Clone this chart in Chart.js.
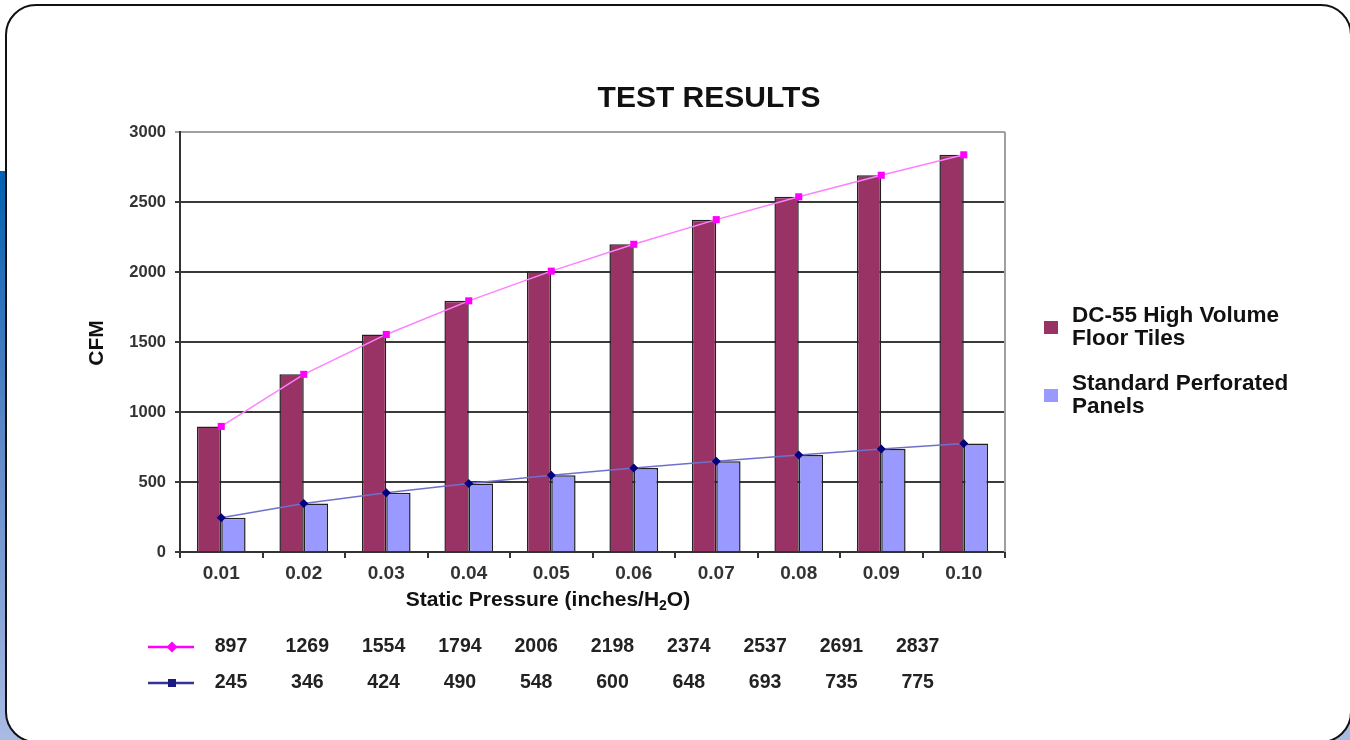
<!DOCTYPE html>
<html>
<head>
<meta charset="utf-8">
<script src="https://cdn.jsdelivr.net/npm/chart.js@4/dist/chart.umd.min.js"></script>
<style>
  html, body { margin: 0; padding: 0; background: #fff; }
  #chart { display: block; }
</style>
</head>
<body>
<canvas id="chart" width="1350" height="740"></canvas>
<script>
// Chart data
const pressures = ['0.01', '0.02', '0.03', '0.04', '0.05', '0.06', '0.07', '0.08', '0.09', '0.10']
const dc55Cfm = [897, 1269, 1554, 1794, 2006, 2198, 2374, 2537, 2691, 2837]
const perforatedCfm = [245, 346, 424, 490, 548, 600, 648, 693, 735, 775]
const seriesNames = [['DC-55 High Volume', 'Floor Tiles'], ['Standard Perforated', 'Panels']]
const yMin = 0
const yMax = 3000
const yStep = 500

const FONT = '"Liberation Sans", Arial, sans-serif'
const MAROON = '#993366'
const LAVENDER = '#9999ff'

// Page background and rounded card
const backdrop = {
  id: 'backdrop',
  beforeDraw(chart) {
    const ctx = chart.ctx
    ctx.save()
    ctx.fillStyle = '#fff'
    ctx.fillRect(0, 0, chart.width, chart.height)

    const grad = ctx.createLinearGradient(0, 171, 0, 740)
    grad.addColorStop(0, '#0060b0')
    grad.addColorStop(0.45, '#5a86c6')
    grad.addColorStop(1, '#a9bbe3')
    ctx.fillStyle = grad
    ctx.fillRect(0, 171, 10, 569)
    ctx.fillRect(0, 700, 40, 40)

    ctx.fillStyle = '#a9bbe3'
    ctx.fillRect(1310, 700, 40, 40)

    const x = 6, y = 5, w = 1345, h = 737, r = 30
    ctx.beginPath()
    ctx.moveTo(x + r, y)
    ctx.lineTo(x + w - r, y)
    ctx.arcTo(x + w, y, x + w, y + r, r)
    ctx.lineTo(x + w, y + h - r)
    ctx.arcTo(x + w, y + h, x + w - r, y + h, r)
    ctx.lineTo(x + r, y + h)
    ctx.arcTo(x, y + h, x, y + h - r, r)
    ctx.lineTo(x, y + r)
    ctx.arcTo(x, y, x + r, y, r)
    ctx.closePath()
    ctx.fillStyle = '#fff'
    ctx.fill()
    ctx.lineWidth = 2
    ctx.strokeStyle = '#111'
    ctx.stroke()
    ctx.restore()
  },
  beforeDatasetsDraw(chart) {
    const { ctx, chartArea } = chart
    ctx.save()
    ctx.strokeStyle = '#a0a0a0'
    ctx.lineWidth = 2
    ctx.beginPath()
    ctx.moveTo(chartArea.right, chartArea.top)
    ctx.lineTo(chartArea.right, chartArea.bottom)
    ctx.stroke()
    ctx.restore()
  }
}

// Title, axis titles, legend and data table
const annotations = {
  id: 'annotations',
  afterDraw(chart) {
    const ctx = chart.ctx
    ctx.save()
    ctx.fillStyle = '#111'
    ctx.textBaseline = 'middle'

    // title
    ctx.textAlign = 'center'
    ctx.font = `bold 30px ${FONT}`
    ctx.fillText('TEST RESULTS', 709, 99)

    // y axis title
    ctx.save()
    ctx.translate(97, 343)
    ctx.rotate(-Math.PI / 2)
    ctx.font = `bold 21px ${FONT}`
    ctx.fillText('CFM', 0, 0)
    ctx.restore()

    // x axis title with subscript
    const big = `bold 21px ${FONT}`
    const small = `bold 14px ${FONT}`
    const partA = 'Static Pressure (inches/H'
    const partB = '2'
    const partC = 'O)'
    ctx.font = big
    const wA = ctx.measureText(partA).width
    const wC = ctx.measureText(partC).width
    ctx.font = small
    const wB = ctx.measureText(partB).width
    let tx = 548 - (wA + wB + wC) / 2
    ctx.textAlign = 'left'
    ctx.font = big
    ctx.fillText(partA, tx, 600)
    tx += wA
    ctx.font = small
    ctx.fillText(partB, tx, 606)
    tx += wB
    ctx.font = big
    ctx.fillText(partC, tx, 600)

    // legend
    const colors = [MAROON, LAVENDER]
    const legendY = [327, 395]
    ctx.font = `bold 22.5px ${FONT}`
    seriesNames.forEach((lines, i) => {
      ctx.fillStyle = colors[i]
      ctx.fillRect(1044, legendY[i] - 6, 14, 13)
      ctx.fillStyle = '#111'
      lines.forEach((t, j) => {
        ctx.fillText(t, 1072, legendY[i] - 11 + j * 23)
      })
    })

    // data table
    const rows = [
      { values: dc55Cfm, y: 647, line: '#ff00ff', marker: '#ff00ff', diamond: true },
      { values: perforatedCfm, y: 683, line: '#333399', marker: '#1a1a80', diamond: false }
    ]
    rows.forEach(row => {
      ctx.strokeStyle = row.line
      ctx.lineWidth = 2.5
      ctx.beginPath()
      ctx.moveTo(148, row.y)
      ctx.lineTo(194, row.y)
      ctx.stroke()
      ctx.fillStyle = row.marker
      if (row.diamond) {
        ctx.beginPath()
        ctx.moveTo(172, row.y - 5.5)
        ctx.lineTo(177.5, row.y)
        ctx.lineTo(172, row.y + 5.5)
        ctx.lineTo(166.5, row.y)
        ctx.closePath()
        ctx.fill()
      } else {
        ctx.fillRect(168, row.y - 4, 8, 8)
      }
      ctx.fillStyle = '#222'
      ctx.textAlign = 'center'
      ctx.font = `bold 19.5px ${FONT}`
      row.values.forEach((v, i) => {
        ctx.fillText(String(v), 231 + i * 76.3, row.y)
      })
      ctx.textAlign = 'left'
    })
    ctx.restore()
  }
}

new Chart(document.getElementById('chart'), {
  data: {
    labels: pressures,
    datasets: [
      {
        type: 'line',
        data: dc55Cfm,
        borderColor: '#ff80ff',
        borderWidth: 1.5,
        pointStyle: 'rect',
        pointRadius: 5,
        pointBackgroundColor: '#ff00ff',
        pointBorderColor: '#ff00ff',
        pointBorderWidth: 0,
        order: 0
      },
      {
        type: 'line',
        data: perforatedCfm,
        borderColor: '#7070cc',
        borderWidth: 1.5,
        pointStyle: 'rectRot',
        pointRadius: 4.5,
        pointBackgroundColor: '#000080',
        pointBorderColor: '#000080',
        pointBorderWidth: 0,
        order: 0
      },
      {
        type: 'bar',
        data: dc55Cfm,
        backgroundColor: MAROON,
        borderColor: '#222',
        borderWidth: 1.5,
        categoryPercentage: 0.59,
        barPercentage: 1,
        order: 1
      },
      {
        type: 'bar',
        data: perforatedCfm,
        backgroundColor: LAVENDER,
        borderColor: '#222',
        borderWidth: 1.5,
        categoryPercentage: 0.59,
        barPercentage: 1,
        order: 1
      }
    ]
  },
  options: {
    responsive: false,
    animation: false,
    devicePixelRatio: 1,
    layout: {
      padding: { left: 0, right: 345, top: 132, bottom: 148 }
    },
    plugins: {
      legend: { display: false },
      title: { display: false },
      tooltip: { enabled: false }
    },
    scales: {
      x: {
        offset: true,
        afterFit(scale) { scale.height = 40 },
        grid: {
          offset: true,
          drawOnChartArea: false,
          tickLength: 6,
          color: '#333',
          lineWidth: 2
        },
        border: { color: '#333', width: 2 },
        ticks: {
          padding: 4,
          color: '#333',
          font: { family: FONT, size: 19, weight: 'bold' }
        }
      },
      y: {
        min: yMin,
        max: yMax,
        afterFit(scale) { scale.width = 180 },
        grid: {
          tickLength: 5,
          lineWidth: 2,
          color: ctx => (ctx.tick && ctx.tick.value === yMax ? '#a0a0a0' : '#3a3a3a')
        },
        border: { color: '#333', width: 2 },
        ticks: {
          stepSize: yStep,
          padding: 9,
          color: '#333',
          callback: v => String(v),
          font: { family: FONT, size: 16.5, weight: 'bold' }
        }
      }
    }
  },
  plugins: [backdrop, annotations]
})
</script>
</body>
</html>
